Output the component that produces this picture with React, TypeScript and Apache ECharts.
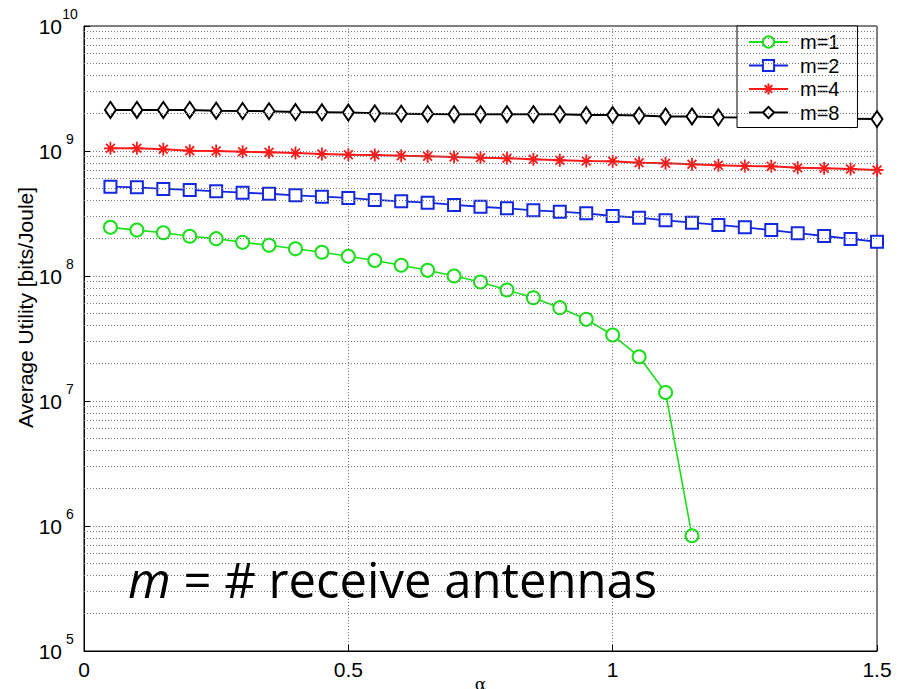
import React, { useEffect, useRef } from "react";
import * as echarts from "echarts";

const alpha = [0.05, 0.1, 0.15, 0.2, 0.25, 0.3, 0.35, 0.4, 0.45, 0.5, 0.55, 0.6, 0.65, 0.7, 0.75, 0.8, 0.85, 0.9, 0.95, 1.0, 1.05, 1.1, 1.15, 1.2, 1.25, 1.3, 1.35, 1.4, 1.45, 1.5];

const m1 = [2.45e8, 2.33e8, 2.22e8, 2.08e8, 1.99e8, 1.86e8, 1.76e8, 1.65e8, 1.55e8, 1.44e8, 1.33e8, 1.22e8, 1.11e8, 1.0e8, 8.95e7, 7.73e7, 6.7e7, 5.58e7, 4.5e7, 3.37e7, 2.26e7, 1.17e7, 8.35e5];
const m2 = [5.18e8, 5.12e8, 4.97e8, 4.88e8, 4.76e8, 4.64e8, 4.55e8, 4.42e8, 4.31e8, 4.21e8, 4.06e8, 3.96e8, 3.86e8, 3.7e8, 3.58e8, 3.48e8, 3.35e8, 3.27e8, 3.17e8, 3.02e8, 2.93e8, 2.79e8, 2.67e8, 2.56e8, 2.45e8, 2.33e8, 2.2e8, 2.09e8, 1.98e8, 1.88e8];
const m4 = [1.051e9, 1.051e9, 1.032e9, 1.006e9, 1.0e9, 9.87e8, 9.76e8, 9.64e8, 9.46e8, 9.34e8, 9.29e8, 9.17e8, 9.07e8, 8.95e8, 8.84e8, 8.74e8, 8.58e8, 8.43e8, 8.32e8, 8.27e8, 8.06e8, 7.97e8, 7.83e8, 7.69e8, 7.59e8, 7.54e8, 7.35e8, 7.27e8, 7.18e8, 7.05e8];
const m8 = [2.13e9, 2.13e9, 2.13e9, 2.13e9, 2.1e9, 2.09e9, 2.08e9, 2.05e9, 2.04e9, 2.03e9, 2.0e9, 1.99e9, 1.98e9, 1.97e9, 1.97e9, 1.97e9, 1.97e9, 1.97e9, 1.94e9, 1.94e9, 1.92e9, 1.89e9, 1.89e9, 1.86e9, 1.85e9, 1.84e9, 1.83e9, 1.82e9, 1.81e9, 1.8e9];

const seriesNames = ["m=1", "m=2", "m=4", "m=8"];
const xTickLabels = ["0", "0.5", "1", "1.5"];
const yDecades = [1e5, 1e6, 1e7, 1e8, 1e9, 1e10];
const minorMultipliers = [2, 3, 4, 5, 6, 7, 8, 9];

const FONT = "Liberation Sans";
const GRID_LINE = { color: "#7a7a7a", width: 1, type: [1, 2] as number[] };
const ASTERISK = "path://M5 0L5 10M0 5L10 5M1.6 1.6L8.4 8.4M1.6 8.4L8.4 1.6";

export default function App() {
  const ref = useRef<HTMLDivElement>(null);
  useEffect(() => {
    if (!ref.current) return;
    const chart = echarts.init(ref.current, null, { renderer: "svg" });
    const pairs = (vals: number[]) => vals.map((v, i) => [alpha[i], v]);
    const minorLines = yDecades.slice(0, -1).flatMap((d) => minorMultipliers.map((k) => ({ yAxis: k * d })));

    chart.setOption({
      animation: false,
      backgroundColor: "#fff",
      grid: {
        left: 84,
        right: 29,
        top: 26,
        bottom: 38,
        containLabel: false,
        outerBoundsMode: "none",
        show: true,
        borderColor: "#000",
        borderWidth: 1,
        backgroundColor: "transparent",
      },
      xAxis: {
        type: "value",
        min: 0,
        max: 1.5,
        interval: 0.5,
        name: "α",
        nameLocation: "middle",
        nameGap: 24,
        nameMoveOverlap: false,
        nameTextStyle: { fontSize: 17, fontFamily: "DejaVu Serif", color: "#000" },
        axisLine: { show: true, lineStyle: { color: "#000", width: 1 } },
        axisTick: { show: true, inside: true, length: 6, lineStyle: { color: "#000" } },
        axisLabel: {
          margin: 8,
          fontSize: 21,
          fontFamily: FONT,
          color: "#000",
          formatter: (v: number) => xTickLabels[Math.round(v / 0.5)] ?? String(v),
        },
        splitLine: { show: true, lineStyle: GRID_LINE },
      },
      yAxis: {
        type: "log",
        logBase: 10,
        min: 1e5,
        max: 1e10,
        name: "Average Utility [bits/Joule]",
        nameLocation: "middle",
        nameGap: 48,
        nameMoveOverlap: false,
        nameTextStyle: { fontSize: 21, fontFamily: FONT, color: "#000", padding: [0, 0, 0, 62] },
        axisLine: { show: true, lineStyle: { color: "#000", width: 1 } },
        axisTick: { show: true, inside: true, length: 6, lineStyle: { color: "#000" } },
        axisLabel: {
          margin: 6,
          align: "right",
          color: "#000",
          fontFamily: FONT,
          formatter: (v: number) => `{b|10}{s|${Math.round(Math.log10(v))}}`,
          rich: {
            b: { fontSize: 21, fontFamily: FONT, color: "#000", lineHeight: 38, verticalAlign: "middle" },
            s: { fontSize: 14, fontFamily: FONT, color: "#000", lineHeight: 15, verticalAlign: "top", width: 16, align: "left" },
          },
        },
        splitLine: { show: true, lineStyle: GRID_LINE },
      },
      legend: {
        data: seriesNames,
        orient: "vertical",
        left: 737,
        top: 26,
        padding: [6, 18, 5, 11],
        itemGap: 3.5,
        itemWidth: 39,
        itemHeight: 14,
        backgroundColor: "#fff",
        borderColor: "#000",
        borderWidth: 1,
        borderRadius: 0,
        textStyle: { fontSize: 20, fontFamily: FONT, color: "#000", lineHeight: 20, padding: [0, 0, 0, 7] },
      },
      graphic: [
        {
          type: "text",
          left: 128,
          top: 554,
          z: 10,
          style: {
            text: "{i|m} = # receive antennas",
            rich: {
              i: { fontStyle: "italic", fontSize: 49, fontFamily: "Open Sans", fill: "#000" },
            },
            fontSize: 49,
            fontFamily: "Open Sans",
            fill: "#000",
          },
        },
      ],
      series: [
        {
          name: "minor-grid",
          type: "line",
          data: [],
          silent: true,
          z: 1,
          markLine: {
            silent: true,
            symbol: ["none", "none"],
            label: { show: false },
            lineStyle: GRID_LINE,
            emphasis: { disabled: true },
            data: minorLines,
          },
        },
        {
          name: seriesNames[0],
          type: "line",
          data: pairs(m1),
          color: "#19e019",
          symbol: "emptyCircle",
          symbolSize: 13,
          lineStyle: { width: 1.6, color: "#19e019" },
          itemStyle: { color: "#19e019", borderWidth: 1.4 },
        },
        {
          name: seriesNames[1],
          type: "line",
          data: pairs(m2),
          color: "#1428e0",
          symbol: "emptyRect",
          symbolSize: 12,
          lineStyle: { width: 1.8, color: "#1428e0" },
          itemStyle: { color: "#1428e0", borderWidth: 1.6 },
        },
        {
          name: seriesNames[2],
          type: "line",
          data: pairs(m4),
          color: "#ff1a1a",
          symbol: ASTERISK,
          symbolSize: 13,
          lineStyle: { width: 2, color: "#ff1a1a" },
          itemStyle: { color: "#ff1a1a", borderColor: "#ff1a1a", borderWidth: 1.8 },
        },
        {
          name: seriesNames[3],
          type: "line",
          data: pairs(m8),
          color: "#000",
          symbol: "emptyDiamond",
          symbolSize: [11, 16],
          lineStyle: { width: 2, color: "#000" },
          itemStyle: { color: "#000", borderWidth: 1.6 },
        },
      ],
    });
    return () => chart.dispose();
  }, []);
  return <div ref={ref} style={{ position: "absolute", left: 0, top: 0, width: 906, height: 689 }} />;
}
